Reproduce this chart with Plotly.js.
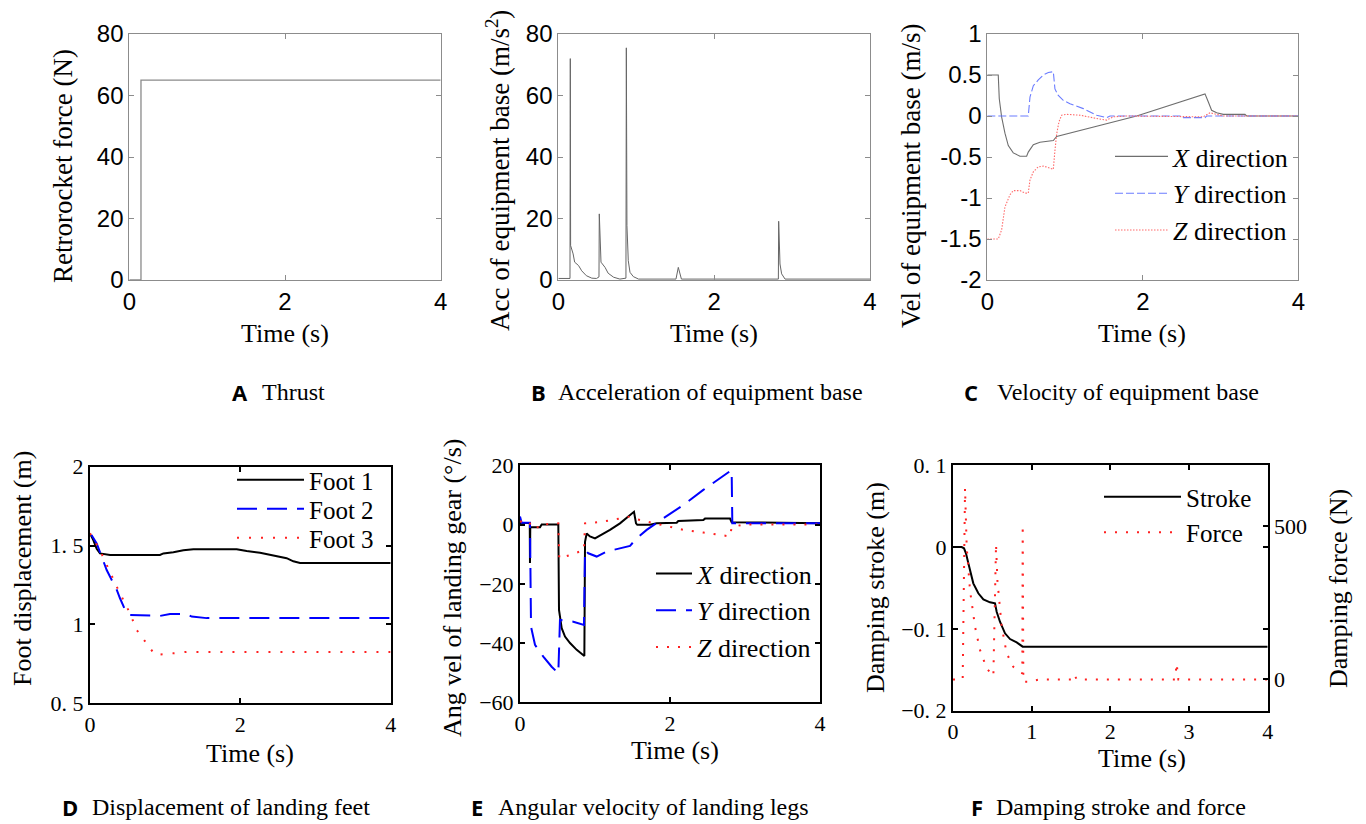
<!DOCTYPE html>
<html>
<head>
<meta charset="utf-8">
<script src="https://cdn.plot.ly/plotly-3.0.1.min.js"></script>
<style>html,body{margin:0;padding:0;background:#fff;}#chart{width:1366px;height:824px;}</style>
</head>
<body>
<div id="chart"></div>
<script>
// ---------- DATA ----------
// A: thrust
const thrustT = [0, 0.15, 0.15, 4];
const thrustF = [0, 0, 65, 65];
// B: acceleration of equipment base
const accT = [0, 0.15, 0.154, 0.158, 0.19, 0.21, 0.26, 0.30, 0.36, 0.43, 0.49, 0.522, 0.526, 0.548, 0.6, 0.64, 0.71, 0.79, 0.868, 0.873, 0.881, 0.898, 0.92, 0.963, 1.03, 1.51, 1.54, 1.58, 2.824, 2.828, 2.845, 2.866, 2.91, 4];
const accV = [0.5, 0.5, 72, 11.2, 8.5, 5.8, 4.7, 3, 1.4, 0.6, 0.5, 1, 21.5, 5.8, 4.1, 2.2, 0.9, 0.3, 0.6, 75.5, 17.7, 6.3, 2.5, 1.1, 0.3, 0.3, 4.1, 0.3, 0.3, 19.1, 5.2, 2, 0.3, 0.3];
// C: velocity of equipment base
const velXT = [0, 0.141, 0.154, 0.184, 0.227, 0.27, 0.334, 0.42, 0.506, 0.527, 0.592, 0.677, 0.849, 0.892, 1.921, 2.8, 2.843, 2.885, 2.95, 3.035, 3.314, 3.335, 4];
const velX  = [0.5, 0.5, 0.21, -0.01, -0.21, -0.36, -0.45, -0.49, -0.49, -0.44, -0.35, -0.32, -0.3, -0.25, 0, 0.27, 0.17, 0.07, 0.04, 0.02, 0.02, 0, 0];
const velYT = [0, 0.527, 0.549, 0.592, 0.656, 0.72, 0.785, 0.849, 0.87, 0.913, 0.977, 1.063, 1.235, 1.406, 1.535, 1.578, 2.5, 2.52, 2.8, 2.82, 4];
const velY  = [0, 0, 0.23, 0.37, 0.44, 0.5, 0.53, 0.54, 0.33, 0.25, 0.19, 0.15, 0.09, 0.01, -0.02, 0, 0, -0.02, -0.02, 0, 0];
const velZT = [0, 0.141, 0.184, 0.227, 0.292, 0.334, 0.42, 0.484, 0.527, 0.549, 0.592, 0.656, 0.72, 0.806, 0.849, 0.87, 0.892, 0.922, 0.956, 1.02, 1.192, 1.406, 1.535, 1.621, 1.792, 2.778, 2.864, 2.95, 3.035, 4];
const velZ  = [-1.5, -1.5, -1.39, -1.11, -0.96, -0.91, -0.91, -0.94, -0.94, -0.78, -0.68, -0.62, -0.61, -0.64, -0.65, -0.42, -0.22, -0.07, 0.01, 0.02, 0.01, -0.03, -0.05, -0.01, 0, -0.01, 0.04, 0.02, 0, 0];
const velNames = ['<i>X</i> direction', '<i>Y</i> direction', '<i>Z</i> direction'];
// D: displacement of landing feet
const foot1T = [0.01, 0.044, 0.089, 0.133, 0.266, 0.931, 0.976, 1.109, 1.242, 1.375, 1.951, 2.084, 2.262, 2.439, 2.616, 2.705, 2.794, 4];
const foot1  = [1.567, 1.535, 1.48, 1.45, 1.44, 1.44, 1.45, 1.457, 1.47, 1.477, 1.477, 1.465, 1.455, 1.436, 1.42, 1.40, 1.39, 1.39];
const foot2T = [0.02, 0.089, 0.222, 0.355, 0.399, 0.488, 0.532, 0.931, 1.064, 1.286, 1.353, 1.552, 4];
const foot2  = [1.567, 1.514, 1.345, 1.22, 1.166, 1.07, 1.06, 1.054, 1.066, 1.066, 1.05, 1.04, 1.04];
const foot3T = [0.0, 0.133, 0.355, 0.532, 0.621, 0.754, 0.865, 1.109, 1.286, 4];
const foot3  = [1.578, 1.47, 1.24, 1.07, 0.965, 0.88, 0.807, 0.817, 0.826, 0.826];
const footNames = ['Foot 1', 'Foot 2', 'Foot 3'];
const dTickVals = [0.5, 1, 1.5, 2];
const dTickText = ['0. 5', '1', '1. 5', '2'];
// E: angular velocity of landing legs
const angXT = [0, 0.13, 0.133, 0.137, 0.267, 0.289, 0.511, 0.52, 0.556, 0.6, 0.667, 0.756, 0.858, 0.867, 0.889, 0.933, 1.0, 1.067, 1.2, 1.333, 1.467, 1.52, 1.547, 1.564, 1.733, 1.822, 2.089, 2.111, 2.444, 2.467, 2.8, 2.822, 4];
const angX  = [0.5, 0.5, -13, -0.9, -0.9, 0, 0, -28.8, -35, -37.8, -40, -42.3, -44.4, -5.8, -3, -4, -4.7, -3.8, -1.8, 0.4, 3.2, 4.3, 0.4, -0.1, -0.1, 0.4, 0.6, 1.2, 1.5, 2, 2, 0.8, 0.4];
const angYT = [0, 0.022, 0.133, 0.147, 0.2, 0.311, 0.422, 0.511, 0.533, 0.711, 0.853, 0.867, 0.911, 1.022, 1.156, 1.333, 1.467, 1.556, 1.689, 1.911, 2.178, 2.444, 2.667, 2.822, 2.831, 4];
const angY  = [2.7, 0.6, 0.6, -34.5, -40.6, -44.6, -48, -50.2, -32.2, -32.8, -33.9, -8.6, -9.7, -10.8, -9.1, -8, -7.2, -4.6, -1.8, 2.1, 6.6, 11.7, 15.6, 18.4, 0.4, 0.4];
const angZT = [0, 0.133, 0.137, 0.267, 0.289, 0.511, 0.524, 0.667, 0.853, 0.867, 1.111, 1.289, 1.467, 1.556, 1.689, 1.911, 2.178, 2.444, 2.8, 2.822, 2.978, 4];
const angZ  = [1, 1, -0.9, -0.9, 0, 0.4, -11.4, -10.3, -8.6, 0.4, 1, 1.8, 2.7, 1.8, 1, -0.1, -1.8, -2.7, -4, -0.9, 0, 0];
// F: damping stroke and force
const strokeT = [0, 0.11, 0.14, 0.165, 0.195, 0.225, 0.258, 0.322, 0.386, 0.47, 0.534, 0.555, 0.597, 0.661, 0.725, 0.809, 0.886, 4];
const stroke  = [0, 0, -0.0015, -0.0076, -0.0198, -0.032, -0.0443, -0.0565, -0.0639, -0.0675, -0.0688, -0.079, -0.0912, -0.1054, -0.1124, -0.1164, -0.1217, -0.1217];
const forceT = [0, 0.123, 0.153, 0.174, 0.216, 0.28, 0.343, 0.428, 0.513, 0.547, 0.564, 0.619, 0.682, 0.767, 0.86, 0.881, 0.886, 0.894, 0.979, 1.021, 1.106, 1.508, 1.542, 1.572, 2.822, 2.843, 2.864, 4];
const force  = [0, 0, 623, 433, 291, 172, 96, 36, 11, 441, 324, 172, 85, 41, 22, 20, 503, -8, -8, -4, 0, 0, 16, 0, 0, 52, 0, 0];
const fTickVals = [0.1, 0, -0.1, -0.2];
const fTickText = ['0. 1', '0', '\u22120. 1', '\u22120. 2'];
const cTickVals = [1, 0.5, 0, -0.5, -1, -1.5, -2];
const cTickText = ['1', '0.5', '0', '-0.5', '-1', '-1.5', '-2'];

// ---------- STYLE ----------
const SERIF = 'Liberation Serif';
const SANS = 'Liberation Sans';
const W = 1366, H = 824;
const dx = (a, b) => [a / W, b / W];
const dy = (top, bot) => [1 - bot / H, 1 - top / H];

const traces = [
  {x: thrustT, y: thrustF, xaxis: 'x', yaxis: 'y', mode: 'lines', line: {color: '#8a8a8a', width: 1.3}, showlegend: false},
  {x: accT, y: accV, xaxis: 'x2', yaxis: 'y2', mode: 'lines', line: {color: '#666', width: 1}, showlegend: false},
  {x: velXT, y: velX, xaxis: 'x3', yaxis: 'y3', mode: 'lines', name: velNames[0], legend: 'legend', line: {color: '#6e6e6e', width: 1.1}},
  {x: velYT, y: velY, xaxis: 'x3', yaxis: 'y3', mode: 'lines', name: velNames[1], legend: 'legend', line: {color: '#6b7cff', width: 1.1, dash: '8px,3px'}},
  {x: velZT, y: velZ, xaxis: 'x3', yaxis: 'y3', mode: 'lines', name: velNames[2], legend: 'legend', line: {color: '#ff6a6a', width: 1.1, dash: '1.5px,1.5px'}},
  {x: foot1T, y: foot1, xaxis: 'x4', yaxis: 'y4', mode: 'lines', name: footNames[0], legend: 'legend2', line: {color: '#000', width: 2}},
  {x: foot2T, y: foot2, xaxis: 'x4', yaxis: 'y4', mode: 'lines', name: footNames[1], legend: 'legend5', line: {color: '#0000ff', width: 2, dash: '20px,10px'}},
  {x: foot3T, y: foot3, xaxis: 'x4', yaxis: 'y4', mode: 'lines', name: footNames[2], legend: 'legend6', line: {color: '#ff2020', width: 2, dash: '2px,10px'}},
  {x: angXT, y: angX, xaxis: 'x5', yaxis: 'y5', mode: 'lines', name: velNames[0], legend: 'legend3', line: {color: '#000', width: 2}},
  {x: angYT, y: angY, xaxis: 'x5', yaxis: 'y5', mode: 'lines', name: velNames[1], legend: 'legend3', line: {color: '#0000ff', width: 2, dash: '20px,10px'}},
  {x: angZT, y: angZ, xaxis: 'x5', yaxis: 'y5', mode: 'lines', name: velNames[2], legend: 'legend3', line: {color: '#ff2020', width: 2, dash: '2px,9px'}},
  {x: strokeT, y: stroke, xaxis: 'x6', yaxis: 'y6', mode: 'lines', name: 'Stroke', legend: 'legend4', line: {color: '#000', width: 2}},
  {x: forceT, y: force, xaxis: 'x6', yaxis: 'y7', mode: 'lines', name: 'Force', legend: 'legend4', line: {color: '#ff2020', width: 2, dash: '2px,9px'}}
];

function topAxis(extra) {
  return Object.assign({
    showgrid: false, zeroline: false, showline: true, linecolor: '#8c8c8c', linewidth: 1,
    mirror: 'ticks', ticks: 'inside', ticklen: 5, tickcolor: '#8c8c8c', tickwidth: 1,
    tickfont: {family: SANS, size: 24, color: '#000'}
  }, extra);
}
function botAxis(extra) {
  return Object.assign({
    showgrid: false, zeroline: false, showline: true, linecolor: '#000', linewidth: 2,
    mirror: 'ticks', ticks: 'inside', ticklen: 5, tickcolor: '#000', tickwidth: 2,
    tickfont: {family: SERIF, size: 22, color: '#000'}
  }, extra);
}
function leg(px, pyTop, size, iw) {
  return {x: px / W, y: 1 - pyTop / H, xanchor: 'left', yanchor: 'top', bgcolor: 'rgba(0,0,0,0)',
          font: {family: SERIF, size: size, color: '#000'}, itemwidth: iw};
}

const rowTop = dy(34, 280);
const layout = {
  width: W, height: H, margin: {l: 0, r: 0, t: 0, b: 0},
  paper_bgcolor: '#fff', plot_bgcolor: '#fff',
  font: {family: SERIF, color: '#000'},
  xaxis:  topAxis({domain: dx(129.3, 440.7), range: [0, 4], tickvals: [0, 2, 4], anchor: 'y'}),
  yaxis:  topAxis({domain: rowTop, range: [0, 80], tickvals: [0, 20, 40, 60, 80], anchor: 'x'}),
  xaxis2: topAxis({domain: dx(558.3, 870), range: [0, 4], tickvals: [0, 2, 4], anchor: 'y2'}),
  yaxis2: topAxis({domain: rowTop, range: [0, 80], tickvals: [0, 20, 40, 60, 80], anchor: 'x2'}),
  xaxis3: topAxis({domain: dx(987.3, 1298.3), range: [0, 4], tickvals: [0, 2, 4], anchor: 'y3'}),
  yaxis3: topAxis({domain: rowTop, range: [-2, 1], tickvals: cTickVals, ticktext: cTickText, anchor: 'x3'}),
  xaxis4: botAxis({domain: dx(90, 390.7), range: [0, 4], tickvals: [0, 2, 4], anchor: 'y4'}),
  yaxis4: botAxis({domain: dy(466.7, 703.3), range: [0.5, 2], tickvals: dTickVals, ticktext: dTickText, anchor: 'x4'}),
  xaxis5: botAxis({domain: dx(520, 820), range: [0, 4], tickvals: [0, 2, 4], anchor: 'y5'}),
  yaxis5: botAxis({domain: dy(465.3, 702.3), range: [-60, 20], tickvals: [-60, -40, -20, 0, 20], anchor: 'x5'}),
  xaxis6: botAxis({domain: dx(953, 1267.7), range: [0, 4], tickvals: [0, 1, 2, 3, 4], anchor: 'y6'}),
  yaxis6: botAxis({domain: dy(465.3, 710.7), range: [-0.2, 0.1], tickvals: fTickVals, ticktext: fTickText, anchor: 'x6', mirror: 'ticks'}),
  yaxis7: botAxis({domain: dy(465.3, 710.7), range: [-102, 698], tickvals: [0, 500], anchor: 'x6', overlaying: 'y6', side: 'right', mirror: false}),
  legend:  leg(1110, 133, 26, 53),
  legend2: leg(232, 457, 25, 67),
  legend5: leg(232, 486, 25, 67),
  legend6: leg(232, 515, 25, 67),
  legend3: leg(651, 550, 26, 36),
  legend4: leg(1099, 474, 25, 77),
  annotations: []
};

function ann(text, px, py, opts) {
  layout.annotations.push(Object.assign({
    text: text, x: px / W, y: 1 - py / H, xref: 'paper', yref: 'paper',
    showarrow: false, xanchor: 'center', yanchor: 'middle',
    font: {family: SERIF, size: 26, color: '#000'}
  }, opts || {}));
}
const f27 = {family: SERIF, size: 27, color: '#000'};
// axis titles
ann('Retrorocket force (N)', 63, 166, {textangle: -90, font: f27});
ann('Time (s)', 285, 333);
ann('Acc of equipment base (m/s<sup>2</sup>)', 498, 171, {textangle: -90, font: f27});
ann('Time (s)', 714, 333);
ann('Vel of equipment base (m/s)', 911, 176, {textangle: -90, font: f27});
ann('Time (s)', 1142, 333);
ann('Foot displacement (m)', 22, 569, {textangle: -90});
ann('Time (s)', 250, 753);
ann('Ang vel of landing gear (°/s)', 452, 588, {textangle: -90});
ann('Time (s)', 675, 750);
ann('Damping stroke (m)', 875, 588, {textangle: -90});
ann('Damping force (N)', 1338, 589, {textangle: -90});
ann('Time (s)', 1142, 758);
// captions
const capLetters = ['A', 'B', 'C', 'D', 'E', 'F'];
const capTexts = ['Thrust', 'Acceleration of equipment base', 'Velocity of equipment base',
                  'Displacement of landing feet', 'Angular velocity of landing legs', 'Damping stroke and force'];
const capLetterPos = [[240, 392], [538, 392], [971, 392], [70, 807], [477, 807], [977, 807]];
const capTextX = [261, 557, 996, 91, 497, 995];
capLetters.forEach((L, i) => {
  ann('<b>' + L + '</b>', capLetterPos[i][0], capLetterPos[i][1], {borderpad: 0, font: {family: 'Open Sans', size: 22, color: '#000'}});
  ann(capTexts[i], capTextX[i], capLetterPos[i][1], {borderpad: 0, xanchor: 'left', font: {family: SERIF, size: 24, color: '#000'}});
});

Plotly.newPlot('chart', traces, layout, {staticPlot: true, displayModeBar: false});
</script>
</body>
</html>
